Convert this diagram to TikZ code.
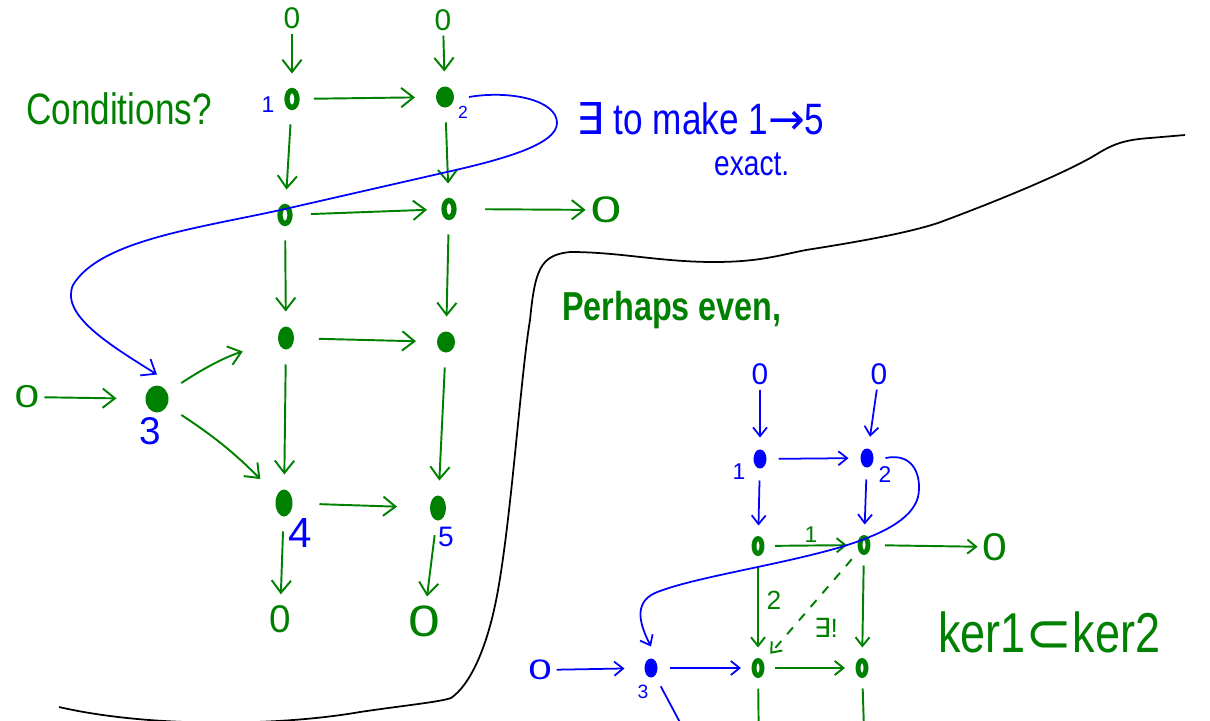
\documentclass[tikz,border=0pt]{standalone}
\usepackage{fontspec}
\usetikzlibrary{arrows.meta,shapes.geometric}
\newfontfamily\hand[FakeStretch=0.8]{Liberation Sans}
\newfontfamily\handn{Liberation Sans}
\newfontfamily\symf{DejaVu Sans}
\definecolor{ink}{RGB}{0,128,0}
\definecolor{pen}{RGB}{0,0,255}
\newlength\pxd \setlength\pxd{0.02cm}
\newcommand\fsz[1]{\fontsize{#1}{#1}\selectfont}

\begin{document}
\begin{tikzpicture}[x=0.02cm,y=-0.02cm,
  gline/.style={draw=ink,line width=1.1pt},
  bline/.style={draw=pen,line width=1pt},
  bigtip/.style={-{Straight Barb[length=7pt,width=11pt]}},
  smalltip/.style={-{Straight Barb[length=5pt,width=8pt]}},
  garrow/.style={gline,bigtip},
  gsarrow/.style={gline,smalltip},
  bsarrow/.style={bline,smalltip},
  dotL/.style={ellipse,fill=#1,inner sep=0pt,minimum width=16\pxd,minimum height=23\pxd,outer sep=15\pxd},
  ringL/.style={ellipse,draw=#1,fill=white,line width=3pt,inner sep=0pt,minimum width=10\pxd,minimum height=17\pxd,outer sep=17\pxd},
  dotR/.style={ellipse,fill=#1,inner sep=0pt,minimum width=13\pxd,minimum height=19\pxd,outer sep=12\pxd},
  ringR/.style={ellipse,draw=#1,fill=white,line width=2.8pt,inner sep=0pt,minimum width=8\pxd,minimum height=15\pxd,outer sep=13\pxd},
  zero/.style={text=#1,font=\handn\fsz{17},inner sep=0pt,outer sep=5\pxd},
  num/.style={text=#1,font=\handn\fsz{13},inner sep=0pt},
]
\useasboundingbox (0,0) rectangle (1210,720);
\clip (0,0) rectangle (1210,720);

% ---------- left square ----------
\node[zero=ink] (Lz1) at (292,18) {0};
\node[zero=ink] (Lz2) at (443,20) {0};
\node[ringL=ink] (L1) at (292,99) {};
\node[dotL=ink,minimum width=18\pxd,minimum height=21\pxd] (L2) at (445,97) {};
\node[ringL=ink] (L3) at (285,215) {};
\node[ringL=ink] (L4) at (449,209) {};
\node[zero=ink,font=\handn\fsz{21}] (Lz3) at (606,210) {\scalebox{1.5}[1]{0}};
\node[dotL=ink] (L5) at (286,338) {};
\node[dotL=ink,minimum width=18\pxd,minimum height=21\pxd] (L6) at (446,342) {};
\node[dotL=ink,minimum width=23\pxd,minimum height=27\pxd,outer sep=11\pxd] (L7) at (157,399) {};
\node[zero=ink,font=\handn\fsz{18}] (Lz4) at (27,397) {\scalebox{1.4}[1]{0}};
\node[dotL=ink,minimum width=17\pxd,minimum height=27\pxd] (L8) at (284,503) {};
\node[dotL=ink,minimum width=16\pxd,minimum height=25\pxd] (L9) at (438,508) {};
\node[zero=ink,font=\handn\fsz{22}] (Lz5) at (280,619) {0};
\node[zero=ink,font=\handn\fsz{25}] (Lz6) at (424,621) {\scalebox{1.3}[1]{0}};

\node[num=pen] (n1) at (268,105) {1};
\node[num=pen,font=\handn\fsz{10}] (n2) at (463,112) {2};
\node[num=pen,font=\handn\fsz{22}] (n3) at (150,431) {3};
\node[num=pen,font=\handn\fsz{24}] (n4) at (300,533) {4};
\node[num=pen,font=\handn\fsz{16}] (n5) at (446,537) {5};

\draw[garrow] (Lz1) -- (L1);
\draw[garrow] (Lz2) -- (L2);
\draw[garrow,shorten >=6\pxd] (L1) -- (L2);
\draw[garrow] (L1) -- (L3);
\draw[garrow] (L2) -- (L4);
\draw[garrow,shorten <=4\pxd] (L3) -- (L4);
\draw[garrow,shorten <=14\pxd] (L4) -- (Lz3);
\draw[garrow] (L3) -- (L5);
\draw[garrow] (L4) -- (L6);
\draw[garrow,shorten <=10\pxd,shorten >=6\pxd] (L5) -- (L6);
\draw[garrow,shorten >=18\pxd] (Lz4) -- (L7);
\draw[garrow,shorten <=6\pxd,shorten >=22\pxd] (L7) to[bend left=8] (L5);
\draw[garrow,shorten <=6\pxd,shorten >=8\pxd] (L7) to[bend left=6] (L8);
\draw[garrow] (L5) -- (L8);
\draw[garrow] (L6) -- (L9);
\draw[garrow,shorten <=12\pxd,shorten >=18\pxd] (L8) -- (L9);
\draw[garrow,shorten >=6\pxd] (L8) -- (Lz5);
\draw[garrow,shorten >=4\pxd] (L9) -- (Lz6);

% connecting map, left
\draw[bline,bigtip] (L2.east)
  .. controls (510,90) and (557,100) .. (557,123)
  .. controls (557,145) and (500,160) .. (447,172)
  -- (285,209)
  .. controls (200,228) and (100,240) .. (73,285)
  .. controls (60,315) and (110,345) .. (L7.north);

% ---------- texts ----------
\node[text=ink,font=\hand\fsz{25},anchor=base west] (cond) at (20,124) {Conditions?};
\node[text=pen,font=\hand\fsz{25},anchor=base west] (ex1) at (570,134) {{\symf ∃} to make 1{\symf →}5};
\node[text=pen,font=\hand\fsz{20},anchor=base west] (ex2) at (708,175) {exact.};
\node[text=ink,font=\hand\bfseries\fsz{23},anchor=base west] (perh) at (556,320) {Perhaps even,};
\node[text=ink,font=\hand\fsz{32},anchor=base west] (ker) at (932,652) {ker1{\symf ⊂}ker2};

% ---------- dividing curve ----------
\draw[black,line width=1pt]
  (59,707) .. controls (150,728) and (280,726) .. (360,712)
  .. controls (400,706) and (440,702) .. (451,698)
  .. controls (470,685) and (485,650) .. (494,610)
  .. controls (510,540) and (520,380) .. (530,320)
  .. controls (535,270) and (540,255) .. (570,252)
  .. controls (620,252) and (660,262) .. (714,262)
  .. controls (760,262) and (780,255) .. (806,250)
  .. controls (870,240) and (910,232) .. (938,223)
  .. controls (1000,200) and (1060,175) .. (1092,157)
  .. controls (1110,146) and (1120,140) .. (1150,138)
  -- (1185,135);

% ---------- right square ----------
\node[zero=pen] (Rz1) at (760,374) {0};
\node[zero=pen] (Rz2) at (879,374) {0};
\node[dotR=pen] (R1) at (760,459) {};
\node[dotR=pen] (R2) at (867,458) {};
\node[ringR=ink] (R3) at (758,546) {};
\node[ringR=ink] (R4) at (864,545) {};
\node[zero=ink,font=\handn\fsz{22}] (Rz3) at (995,547) {\scalebox{1.15}[1]{0}};
\node[zero=pen,font=\handn\fsz{16}] (Rz4) at (540,670) {\scalebox{1.5}[1]{0}};
\node[dotR=pen] (R7) at (651,668) {};
\node[ringR=ink] (R8) at (758,668) {};
\node[ringR=ink] (R9) at (862,668) {};

\node[num=pen] (m1) at (739,472) {1};
\node[num=pen] (m2) at (885,475) {2};
\node[num=pen,font=\handn\fsz{11}] (m3) at (643,692) {3};
\node[num=ink] (g1) at (811,535) {1};
\node[num=ink,font=\handn\fsz{15}] (g2) at (774,600) {2};
\node[num=ink,font=\handn\fsz{15}] (gex) at (826,628) {{\symf ∃}!};

\coordinate (s7) at (700,760);
\coordinate (s8) at (759,760);
\coordinate (s9) at (865,760);

\draw[bsarrow] (Rz1) -- (R1);
\draw[bsarrow] (Rz2) -- (R2);
\draw[bsarrow] (R1) -- (R2);
\draw[bsarrow] (R1) -- (R3);
\draw[bsarrow] (R2) -- (R4);
\draw[gsarrow] (R3) -- (R4);
\draw[gsarrow,shorten <=4\pxd] (R4) -- (Rz3);
\draw[gsarrow] (R3) -- (R8);
\draw[gsarrow] (R4) -- (R9);
\draw[gsarrow,dashed,dash pattern=on 9\pxd off 9\pxd] (R4) -- (R8);
\draw[bsarrow,shorten >=8\pxd] (Rz4) -- (R7);
\draw[bsarrow] (R7) -- (R8);
\draw[gsarrow] (R8) -- (R9);
\draw[bline] (R7) -- (s7);
\draw[gline] (R8) -- (s8);
\draw[gline] (R9) -- (s9);

% connecting map, right
\draw[bline,smalltip] (R2.east)
  .. controls (915,452) and (922,478) .. (918,497)
  .. controls (912,520) and (880,535) .. (841,547)
  .. controls (780,565) and (690,578) .. (655,593)
  .. controls (633,603) and (640,625) .. (R7.north);
\end{tikzpicture}
\end{document}
